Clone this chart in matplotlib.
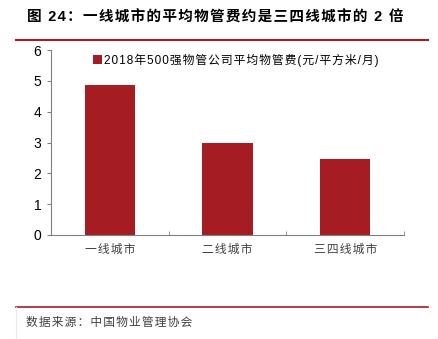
import matplotlib.pyplot as plt
from matplotlib.lines import Line2D

plt.rcParams['font.family'] = ['Liberation Sans', 'Noto Sans CJK SC', 'DejaVu Sans']

cities = ['一线城市', '二线城市', '三四线城市']
fees = [4.88, 2.97, 2.46]
series_name = '2018年500强物管公司平均物管费(元/平方米/月)'
title = '图 24：一线城市的平均物管费约是三四线城市的 2 倍'
source = '数据来源：中国物业管理协会'
red = '#A61C23'


def spaced(s):
    # loose letter spacing like the original
    return '\u200a'.join(s)


fig = plt.figure(figsize=(4.38, 3.39), dpi=100)
ax = fig.add_axes([51/438, 104/339, 353/438, 185/339])

x = range(len(cities))
ax.bar(x, fees, width=0.425, color=red, label=spaced(series_name))

ax.set_xlim(-0.5, len(cities) - 0.5)
ax.set_ylim(0, 6)
ax.set_yticks(range(7))
ax.set_xticks([i for i in x])
ax.set_xticklabels([spaced(c) for c in cities], fontsize=8.5, color='#404040',
                   family=['Noto Sans CJK SC', 'DejaVu Sans'])
ax.set_xticks([i + 0.5 for i in range(-1, len(cities))], minor=True)
ax.tick_params(axis='x', which='major', length=0, pad=6)
ax.tick_params(axis='x', which='minor', direction='in', length=3, color='#808080')
ax.tick_params(axis='y', length=3, color='#808080', labelsize=10, pad=4)

for s in ['top', 'right']:
    ax.spines[s].set_visible(False)
for s in ['left', 'bottom']:
    ax.spines[s].set_color('#808080')

leg = ax.legend(loc='upper left', bbox_to_anchor=(0.09, 1.04), frameon=False,
                handlelength=0.7, handleheight=0.9, handletextpad=0.2,
                prop={'family': ['Liberation Sans', 'Noto Sans CJK SC', 'DejaVu Sans'], 'size': 8.5})

fig.text(27/438, 1 - 18/339, spaced(title),
         fontsize=10.5, fontweight='bold', va='center', ha='left',
         family=['Liberation Sans', 'Noto Sans CJK SC', 'DejaVu Sans'])
fig.add_artist(Line2D([16/438, 428/438], [1 - 40/339, 1 - 40/339], color=red, lw=1.5))
fig.add_artist(Line2D([16/438, 428/438], [1 - 307/339, 1 - 307/339], color=red, lw=1.2))
fig.add_artist(Line2D([16/438, 16/438], [1 - 307/339, 0], color='#e8e8e8', lw=0.8))
fig.text(26/438, 1 - 322/339, spaced(source), fontsize=8.5, color='#404040',
         va='center', ha='left', family=['Noto Sans CJK SC', 'DejaVu Sans'])

fig.savefig('out.png', dpi=100)
